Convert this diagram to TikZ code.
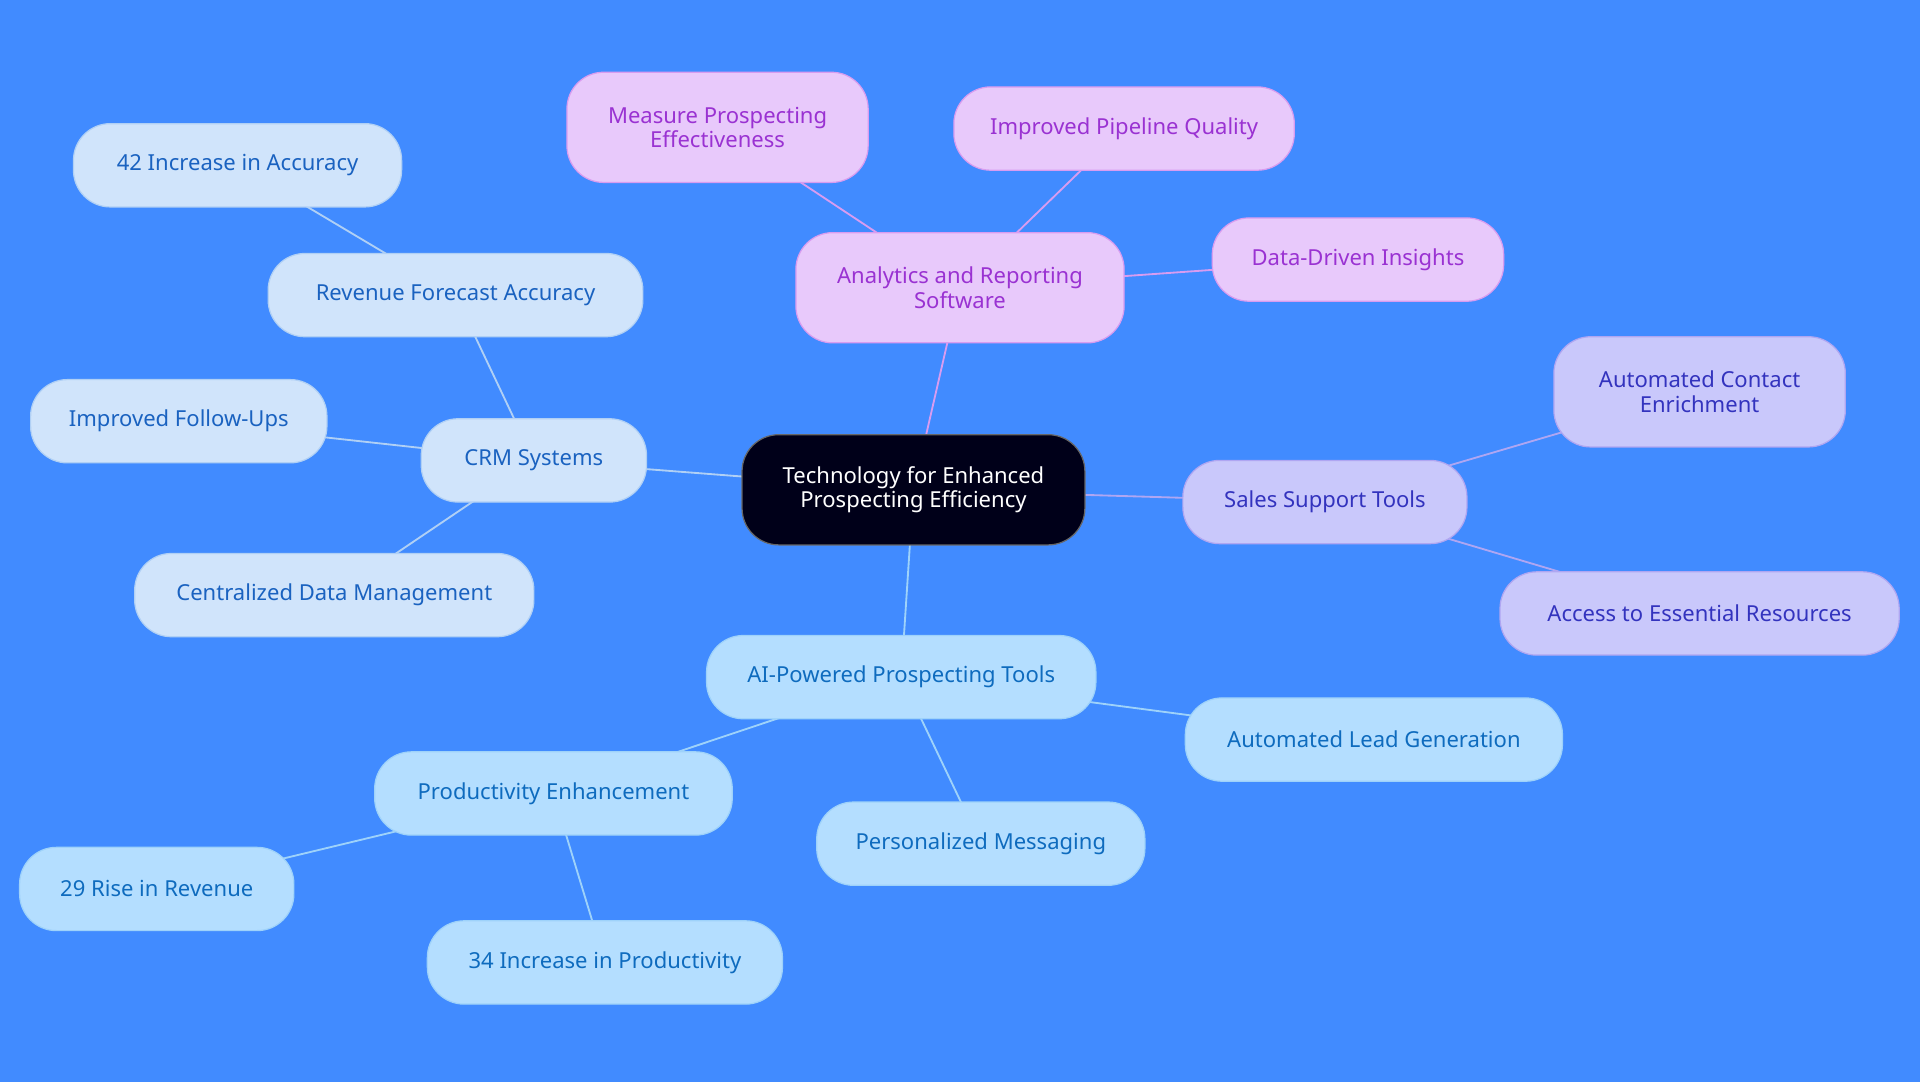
\documentclass[tikz,border=0pt]{standalone}
\usepackage{fontspec}
\setmainfont{Noto Sans}
\usetikzlibrary{backgrounds}
\definecolor{bg}{HTML}{418BFF}
\definecolor{crmF}{HTML}{D0E4FB}\definecolor{crmD}{HTML}{B0D0F5}\definecolor{crmT}{HTML}{1A62C0}
\definecolor{aiF}{HTML}{B4DEFF}\definecolor{aiD}{HTML}{9ED2FA}\definecolor{aiT}{HTML}{0E6BBE}
\definecolor{anF}{HTML}{E8C9FB}\definecolor{anD}{HTML}{D89CF0}\definecolor{anT}{HTML}{9A32D2}
\definecolor{saF}{HTML}{C9C8FB}\definecolor{saD}{HTML}{AFA6F2}\definecolor{saT}{HTML}{3333BE}
\begin{document}
\begin{tikzpicture}[x=1pt,y=1pt,
 base/.style={rounded corners=30pt,align=center,font=\fontsize{18}{20}\selectfont,inner sep=0pt,line width=1pt},
 crm/.style={base,fill=crmF,draw=crmD,text=crmT},
 ai/.style={base,fill=aiF,draw=aiD,text=aiT},
 an/.style={base,fill=anF,draw=anD,text=anT},
 sa/.style={base,fill=saF,draw=saD,text=saT},
 ecrm/.style={draw=crmD,line width=1.5pt},
 eai/.style={draw=aiD,line width=1.5pt},
 ean/.style={draw=anD,line width=1.5pt},
 esa/.style={draw=saD,line width=1.5pt}]
\useasboundingbox (0,0) rectangle (1568,884);
\begin{scope}[on background layer]\fill[bg] (0,0) rectangle (1568,884);\end{scope}
\newcommand{\nd}[6]{\node[#1,minimum width=#4pt,minimum height=#5pt] (#2) at #3 {#6};}
\node[base,fill=black!90!blue,draw=black!60,text=white,minimum width=280pt,minimum height=90pt] (c) at (746,484) {Technology for Enhanced\\Prospecting Efficiency};
\nd{crm}{crm}{(436,508)}{184}{68}{CRM Systems}
\nd{crm}{rfa}{(372,643)}{306}{68}{Revenue Forecast Accuracy}
\nd{crm}{acc}{(194,749)}{268}{68}{42 Increase in Accuracy}
\nd{crm}{ifu}{(146,540)}{242}{68}{Improved Follow-Ups}
\nd{crm}{cdm}{(273,398)}{326}{68}{Centralized Data Management}
\nd{an}{an}{(784,649)}{268}{90}{Analytics and Reporting\\Software}
\nd{an}{mpe}{(586,780)}{246}{90}{Measure Prospecting\\Effectiveness}
\nd{an}{ipq}{(918,779)}{278}{68}{Improved Pipeline Quality}
\nd{an}{ddi}{(1109,672)}{238}{68}{Data-Driven Insights}
\nd{sa}{sa}{(1082,474)}{232}{68}{Sales Support Tools}
\nd{sa}{ace}{(1388,564)}{238}{90}{Automated Contact\\Enrichment}
\nd{sa}{aer}{(1388,383)}{326}{68}{Access to Essential Resources}
\nd{ai}{ai}{(736,331)}{318}{68}{AI-Powered Prospecting Tools}
\nd{ai}{alg}{(1122,280)}{308}{68}{Automated Lead Generation}
\nd{ai}{pm}{(801,195)}{268}{68}{Personalized Messaging}
\nd{ai}{pe}{(452,236)}{292}{68}{Productivity Enhancement}
\nd{ai}{rr}{(128,158)}{224}{68}{29 Rise in Revenue}
\nd{ai}{ip}{(494,98)}{290}{68}{34 Increase in Productivity}
\begin{scope}[on background layer]
\draw[ecrm] (c.center)--(crm.center); \draw[ecrm] (crm.center)--(rfa.center);
\draw[ecrm] (rfa.center)--(acc.center); \draw[ecrm] (crm.center)--(ifu.center);
\draw[ecrm] (crm.center)--(cdm.center);
\draw[ean] (c.center)--(an.center); \draw[ean] (an.center)--(mpe.center);
\draw[ean] (an.center)--(ipq.center); \draw[ean] (an.center)--(ddi.center);
\draw[esa] (c.center)--(sa.center); \draw[esa] (sa.center)--(ace.center);
\draw[esa] (sa.center)--(aer.center);
\draw[eai] (c.center)--(ai.center); \draw[eai] (ai.center)--(alg.center);
\draw[eai] (ai.center)--(pm.center); \draw[eai] (ai.center)--(pe.center);
\draw[eai] (pe.center)--(rr.center); \draw[eai] (pe.center)--(ip.center);
\end{scope}
\end{tikzpicture}
\end{document}
